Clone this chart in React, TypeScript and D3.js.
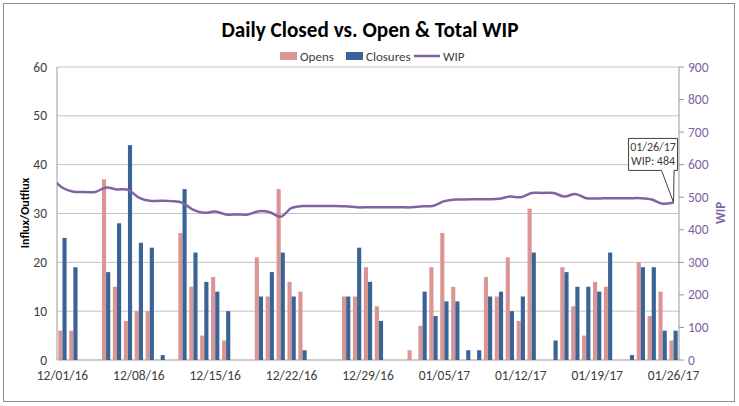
import React from 'react';
import * as d3 from 'd3';

const dates = [
  '12/01/16','12/02/16','12/03/16','12/04/16','12/05/16','12/06/16','12/07/16','12/08/16','12/09/16','12/10/16',
  '12/11/16','12/12/16','12/13/16','12/14/16','12/15/16','12/16/16','12/17/16','12/18/16','12/19/16','12/20/16',
  '12/21/16','12/22/16','12/23/16','12/24/16','12/25/16','12/26/16','12/27/16','12/28/16','12/29/16','12/30/16',
  '12/31/16','01/01/17','01/02/17','01/03/17','01/04/17','01/05/17','01/06/17','01/07/17','01/08/17','01/09/17',
  '01/10/17','01/11/17','01/12/17','01/13/17','01/14/17','01/15/17','01/16/17','01/17/17','01/18/17','01/19/17',
  '01/20/17','01/21/17','01/22/17','01/23/17','01/24/17','01/25/17','01/26/17'
];

const opens = [
  6, 6, 0, 0, 37, 15, 8, 10, 10, 0,
  0, 26, 15, 5, 17, 4, 0, 0, 21, 13,
  35, 16, 14, 0, 0, 0, 13, 13, 19, 11,
  0, 0, 2, 7, 19, 26, 15, 0, 0, 17,
  13, 21, 8, 31, 0, 0, 19, 11, 5, 16,
  15, 0, 0, 20, 9, 14, 4
];

const closures = [
  25, 19, 0, 0, 18, 28, 44, 24, 23, 1,
  0, 35, 22, 16, 14, 10, 0, 0, 13, 18,
  22, 13, 2, 0, 0, 0, 13, 23, 16, 8,
  0, 0, 0, 14, 9, 12, 12, 2, 2, 13,
  14, 10, 13, 22, 0, 4, 18, 15, 15, 14,
  22, 0, 1, 19, 19, 6, 6
];

// WIP starts one day earlier (11/30/16) than the bars
const wipDates = ['11/30/16', ...dates];
const wip = [
  560,
  529, 517, 516, 516, 530, 524, 523, 499, 489, 489,
  488, 483, 461, 452, 456, 447, 447, 447, 457, 454,
  440, 467, 473, 473, 473, 473, 472, 469, 469, 469,
  469, 469, 469, 472, 474, 488, 493, 493, 494, 494,
  495, 502, 500, 513, 513, 513, 502, 510, 497, 496,
  497, 497, 497, 497, 493, 480, 484
];

const xTickLabels = ['12/01/16','12/08/16','12/15/16','12/22/16','12/29/16','01/05/17','01/12/17','01/19/17','01/26/17'];
const leftTicks = [0, 10, 20, 30, 40, 50, 60];
const rightTicks = [0, 100, 200, 300, 400, 500, 600, 700, 800, 900];
const seriesKeys = ['Opens', 'Closures'];

const W = 739, H = 406;
const L = 57, R = 679, T = 67, B = 360;
const FONT = "Carlito, Calibri, Lato, 'Open Sans', sans-serif";
const PINK = '#D99694';
const BLUE = '#3A6496';
const PURPLE = '#8064A2';
const PURPLE_TXT = '#7C65A3';

export default function App() {
  const x = d3.scaleBand<string>().domain(dates).range([L, R]).paddingInner(0.24).paddingOuter(0.12);
  const bw = x.bandwidth();
  const xSub = d3.scaleBand<string>().domain(seriesKeys).range([0, bw]);
  const yL = d3.scaleLinear().domain([0, 60]).range([B, T]);
  const yR = d3.scaleLinear().domain([0, 900]).range([B, T]);
  const c0 = (x(dates[0]) as number) + bw / 2;
  const cN = (x(dates[dates.length - 1]) as number) + bw / 2;
  const xIdx = d3.scaleLinear().domain([0, dates.length - 1]).range([c0, cN]);
  const wipPts = wip.map((v, j) => ({ i: dates.indexOf(wipDates[j]) === -1 ? -1 : dates.indexOf(wipDates[j]), v }));
  const line = d3.line<{ i: number; v: number }>()
    .x(d => xIdx(d.i))
    .y(d => yR(d.v))
    .curve(d3.curveCatmullRom.alpha(0.5));
  const lastI = dates.length - 1;
  const px = xIdx(lastI);
  const py = yR(wip[wip.length - 1]);

  return (
    <svg width={W} height={H} style={{ position: 'absolute', left: 0, top: 0, background: '#fff' }} fontFamily={FONT}>
      <defs>
        <clipPath id="plotclip">
          <rect x={L} y={T - 5} width={R - L} height={B - T + 5} />
        </clipPath>
      </defs>
      <rect x={3.5} y={3.5} width={731} height={398} fill="#fff" stroke="#8C8C8C" strokeWidth={1} />
      <text x={370} y={37} textAnchor="middle" fontSize={22} fontWeight="bold" fill="#000" textLength={297} lengthAdjust="spacingAndGlyphs">
        Daily Closed vs. Open &amp; Total WIP
      </text>
      {/* legend */}
      <g fontSize={13} fill="#404040">
        <rect x={280} y={52} width={17} height={8} fill={PINK} />
        <text x={300} y={61}>Opens</text>
        <rect x={346} y={52} width={17} height={8} fill={BLUE} />
        <text x={366} y={61}>Closures</text>
        <line x1={414} x2={440} y1={56} y2={56} stroke={PURPLE} strokeWidth={2.5} />
        <text x={443} y={61}>WIP</text>
      </g>
      {/* gridlines */}
      {leftTicks.map(t => (
        <line key={'g' + t} x1={L} x2={R} y1={yL(t)} y2={yL(t)} stroke={t === 0 ? '#9A9A9A' : '#C4C4C4'} strokeWidth={1} />
      ))}
      <line x1={L} x2={L} y1={T} y2={B} stroke="#9A9A9A" />
      <line x1={R} x2={R} y1={T} y2={B} stroke="#9A9A9A" />
      {rightTicks.map(t => (
        <line key={'rt' + t} x1={R} x2={R + 5} y1={yR(t)} y2={yR(t)} stroke="#9A9A9A" />
      ))}
      {/* bars */}
      {dates.map((d, i) => (
        <g key={d} transform={`translate(${x(d)},0)`}>
          {opens[i] > 0 && (
            <rect x={xSub('Opens')} y={yL(opens[i])} width={xSub.bandwidth()} height={B - yL(opens[i])} fill={PINK} />
          )}
          {closures[i] > 0 && (
            <rect x={xSub('Closures')} y={yL(closures[i])} width={xSub.bandwidth()} height={B - yL(closures[i])} fill={BLUE} />
          )}
        </g>
      ))}
      {/* WIP line */}
      <path d={line(wipPts) || ''} fill="none" stroke={PURPLE} strokeWidth={2.5} clipPath="url(#plotclip)" />
      {/* left axis labels */}
      <g fontSize={13.5} fill="#404040" textAnchor="end">
        {leftTicks.map(t => (
          <text key={'l' + t} x={47} y={yL(t) + 4.5}>{t}</text>
        ))}
      </g>
      <text transform={`translate(29,213) rotate(-90)`} textAnchor="middle" fontSize={12} fontWeight="bold" fill="#000">Influx/Outflux</text>
      {/* right axis labels */}
      <g fontSize={13.5} fill={PURPLE_TXT} textAnchor="start">
        {rightTicks.map(t => (
          <text key={'r' + t} x={688} y={yR(t) + 4.5}>{t}</text>
        ))}
      </g>
      <text transform={`translate(725,213) rotate(-90)`} textAnchor="middle" fontSize={13} fontWeight="bold" fill={PURPLE_TXT}>WIP</text>
      {/* x labels */}
      <g fontSize={13.5} fill="#404040" textAnchor="middle">
        {xTickLabels.map(lbl => (
          <text key={lbl} x={(x(lbl) as number) + bw / 2} y={380}>{lbl}</text>
        ))}
      </g>
      {/* callout */}
      <g>
        <path
          d={`M${px - 45},${py - 64} L${px + 4},${py - 64} L${px + 4},${py - 32} L${px + 0.5},${py - 32} L${px},${py} L${px - 12},${py - 32} L${px - 45},${py - 32} Z`}
          fill="#fff" stroke="#404040" strokeWidth={1}
        />
        <text x={px - 20.5} y={py - 51} textAnchor="middle" fontSize={12} fill="#404040">{dates[lastI]}</text>
        <text x={px - 20.5} y={py - 37} textAnchor="middle" fontSize={12} fill="#404040">{`WIP: ${wip[wip.length - 1]}`}</text>
      </g>
    </svg>
  );
}
